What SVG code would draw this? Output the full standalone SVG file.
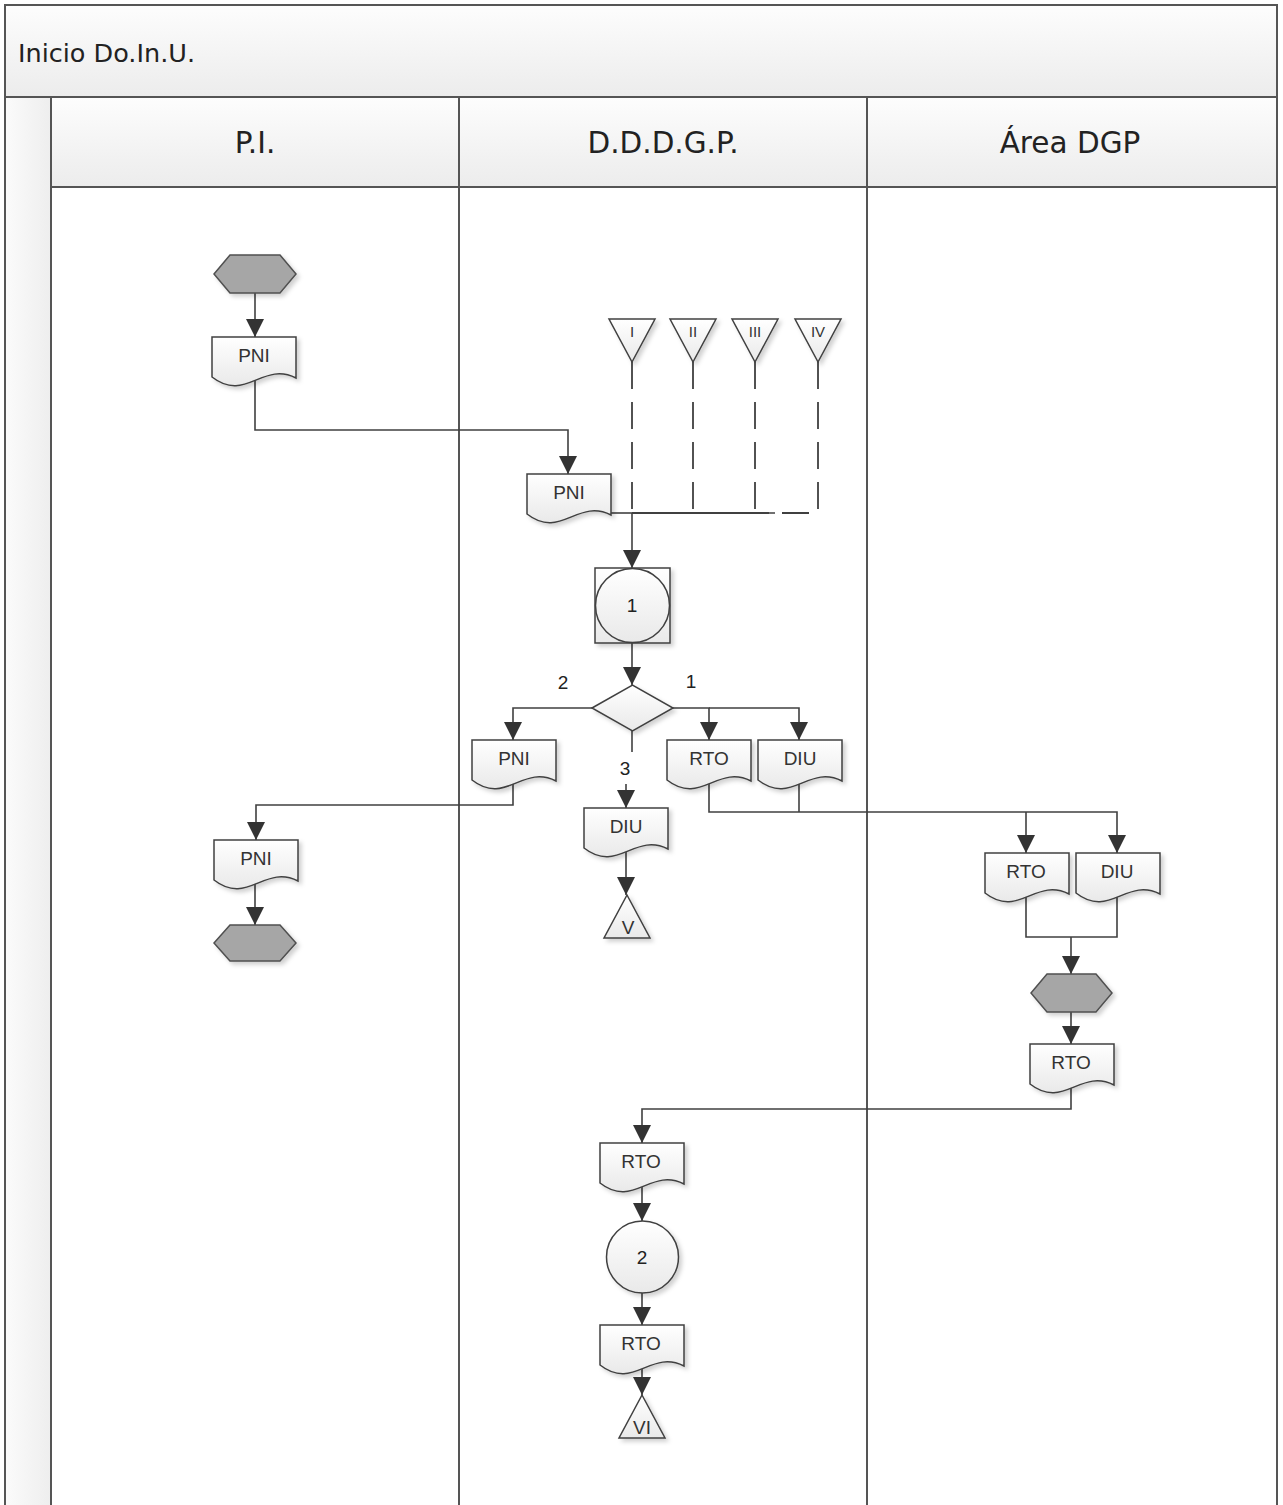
<svg xmlns="http://www.w3.org/2000/svg" xmlns:xlink="http://www.w3.org/1999/xlink" width="1283" height="1505" viewBox="0 0 1283 1505">
<defs>
<style>
.lane{fill:none;stroke:#555;stroke-width:2}
.hdr{fill:url(#gHdr);stroke:#555;stroke-width:2}
.ttl{font-family:"DejaVu Sans",Verdana,sans-serif;font-size:25.5px;fill:#222}
.htx{font-family:"DejaVu Sans",Verdana,sans-serif;font-size:29.5px;fill:#222;text-anchor:middle}
.doc{fill:url(#gDoc);stroke:#404040;stroke-width:1.5;filter:url(#sh)}
.hex{fill:#a6a6a6;stroke:#505050;stroke-width:1.5;filter:url(#sh)}
.shp{fill:url(#gDoc);stroke:#404040;stroke-width:1.5;filter:url(#sh)}
.lbl{font-family:"Liberation Sans",Arial,sans-serif;font-size:19px;fill:#333;text-anchor:middle}
.sml{font-family:"Liberation Sans",Arial,sans-serif;font-size:15px;fill:#333;text-anchor:middle}
.num{font-family:"Liberation Sans",Arial,sans-serif;font-size:19px;fill:#222;text-anchor:middle}
.con{fill:none;stroke:#404040;stroke-width:1.6}
.arr{marker-end:url(#ah)}
.dsh{fill:none;stroke:#404040;stroke-width:1.8;stroke-dasharray:27 13}
</style>
<linearGradient id="gHdr" x1="0" y1="0" x2="0" y2="1"><stop offset="0" stop-color="#fdfdfd"/><stop offset="1" stop-color="#ececec"/></linearGradient>
<linearGradient id="gStrip" x1="0" y1="0" x2="1" y2="0"><stop offset="0" stop-color="#fbfbfb"/><stop offset="1" stop-color="#eeeeee"/></linearGradient>
<linearGradient id="gDoc" x1="0" y1="0" x2="0" y2="1"><stop offset="0" stop-color="#ffffff"/><stop offset="1" stop-color="#e9e9e9"/></linearGradient>
<filter id="sh" x="-20%" y="-20%" width="150%" height="150%"><feDropShadow dx="3" dy="3" stdDeviation="2" flood-color="#000" flood-opacity="0.18"/></filter>
<marker id="ah" viewBox="0 0 18 18" refX="18" refY="9" markerWidth="18" markerHeight="18" markerUnits="userSpaceOnUse" orient="auto"><path d="M0,0 L18,9 L0,18 z" fill="#333"/></marker>
<path id="docp" d="M0,0 H84 V41 C50.4,24 33.6,66 0,40 Z"/>
</defs>

<g id="pool">
<rect x="5" y="5" width="1272" height="92" class="hdr"/>
<text x="18" y="62" class="ttl">Inicio Do.In.U.</text>
<rect x="5" y="97" width="46" height="1410" fill="url(#gStrip)" stroke="#555" stroke-width="2"/>
<rect x="51" y="97" width="1226" height="90" class="hdr"/>
<line x1="459" y1="97" x2="459" y2="1507" class="lane"/>
<line x1="867" y1="97" x2="867" y2="1507" class="lane"/>
<line x1="1277" y1="5" x2="1277" y2="1507" class="lane"/>
<text x="255" y="153" class="htx">P.I.</text>
<text x="663" y="153" class="htx">D.D.D.G.P.</text>
<text x="1070" y="153" class="htx">Área DGP</text>
</g>

<g id="connectors">
<path class="con arr" d="M255,293 V337"/>
<path class="con arr" d="M255,380 V430 H568 V474"/>
<path class="con" d="M611,513 H632"/>
<path class="dsh" d="M632,362 V513"/>
<path class="dsh" d="M693,362 V513 H632"/>
<path class="dsh" d="M755,362 V513 H632"/>
<path class="dsh" d="M818,362 V513 H632"/>
<path class="con" d="M632,513 H775"/>
<path class="con arr" d="M632,513 V568"/>
<path class="con arr" d="M632,643 V685"/>
<path class="con arr" d="M592,708 H513 V740"/>
<path class="con" d="M632,731 V752"/>
<path class="con arr" d="M626,784 V808"/>
<path class="con arr" d="M673,708 H709 V740"/>
<path class="con arr" d="M709,708 H799 V740"/>
<path class="con arr" d="M513,780 V805 H256 V840"/>
<path class="con arr" d="M626,850 V895"/>
<path class="con arr" d="M709,782 V812 H1117 V853"/>
<path class="con" d="M799,782 V812"/>
<path class="con arr" d="M1026,812 V853"/>
<path class="con" d="M1026,895 V937 H1117 V895"/>
<path class="con arr" d="M1071,937 V974"/>
<path class="con arr" d="M255,880 V925"/>
<path class="con arr" d="M1071,1012 V1044"/>
<path class="con arr" d="M1071,1085 V1109 H642 V1143"/>
<path class="con arr" d="M642,1185 V1221"/>
<path class="con arr" d="M642,1292 V1325"/>
<path class="con arr" d="M642,1366 V1395"/>
<text x="563" y="689" class="num">2</text>
<text x="691" y="688" class="num">1</text>
<text x="625" y="775" class="num">3</text>
</g>

<g id="start1"><polygon class="hex" points="214,274 230,255 280,255 296,274 280,293 230,293"/></g>
<g id="pni1"><use href="#docp" class="doc" transform="translate(212,337)"/><text x="254" y="362" class="lbl">PNI</text></g>
<g id="pni2"><use href="#docp" class="doc" transform="translate(527,474)"/><text x="569" y="499" class="lbl">PNI</text></g>

<g id="tri1"><polygon class="shp" points="609,319 655,319 632,362"/><text x="632" y="337" class="sml">I</text></g>
<g id="tri2"><polygon class="shp" points="670,319 716,319 693,362"/><text x="693" y="337" class="sml">II</text></g>
<g id="tri3"><polygon class="shp" points="732,319 778,319 755,362"/><text x="755" y="337" class="sml">III</text></g>
<g id="tri4"><polygon class="shp" points="795,319 841,319 818,362"/><text x="818" y="337" class="sml">IV</text></g>

<g id="proc1"><rect x="595" y="568" width="75" height="75" class="shp"/><circle cx="632.5" cy="605.5" r="37" fill="url(#gDoc)" stroke="#404040" stroke-width="1.5"/><text x="632" y="612" class="num">1</text></g>
<g id="decision"><polygon class="shp" points="592,708 632.5,685 673,708 632.5,731"/></g>

<g id="pni3"><use href="#docp" class="doc" transform="translate(472,740)"/><text x="514" y="765" class="lbl">PNI</text></g>
<g id="rto1"><use href="#docp" class="doc" transform="translate(667,740)"/><text x="709" y="765" class="lbl">RTO</text></g>
<g id="diu1"><use href="#docp" class="doc" transform="translate(758,740)"/><text x="800" y="765" class="lbl">DIU</text></g>
<g id="diu2"><use href="#docp" class="doc" transform="translate(584,808)"/><text x="626" y="833" class="lbl">DIU</text></g>
<g id="offV"><polygon class="shp" points="627,895 650,938 604,938"/><text x="628" y="934" class="lbl" font-size="18">V</text></g>

<g id="pni4"><use href="#docp" class="doc" transform="translate(214,840)"/><text x="256" y="865" class="lbl">PNI</text></g>
<g id="end1"><polygon class="hex" points="214,943 230,925 280,925 296,943 280,961 230,961"/></g>

<g id="rto2"><use href="#docp" class="doc" transform="translate(985,853)"/><text x="1026" y="878" class="lbl">RTO</text></g>
<g id="diu3"><use href="#docp" class="doc" transform="translate(1076,853)"/><text x="1117" y="878" class="lbl">DIU</text></g>
<g id="hex3"><polygon class="hex" points="1031,993 1047,974 1096,974 1112,993 1096,1012 1047,1012"/></g>
<g id="rto3"><use href="#docp" class="doc" transform="translate(1030,1044)"/><text x="1071" y="1069" class="lbl">RTO</text></g>

<g id="rto4"><use href="#docp" class="doc" transform="translate(600,1143)"/><text x="641" y="1168" class="lbl">RTO</text></g>
<g id="proc2"><circle cx="642.5" cy="1257" r="36" class="shp"/><text x="642" y="1264" class="num">2</text></g>
<g id="rto5"><use href="#docp" class="doc" transform="translate(600,1325)"/><text x="641" y="1350" class="lbl">RTO</text></g>
<g id="offVI"><polygon class="shp" points="642,1395 665,1438 619,1438"/><text x="642" y="1434" class="lbl" font-size="18">VI</text></g>
</svg>
